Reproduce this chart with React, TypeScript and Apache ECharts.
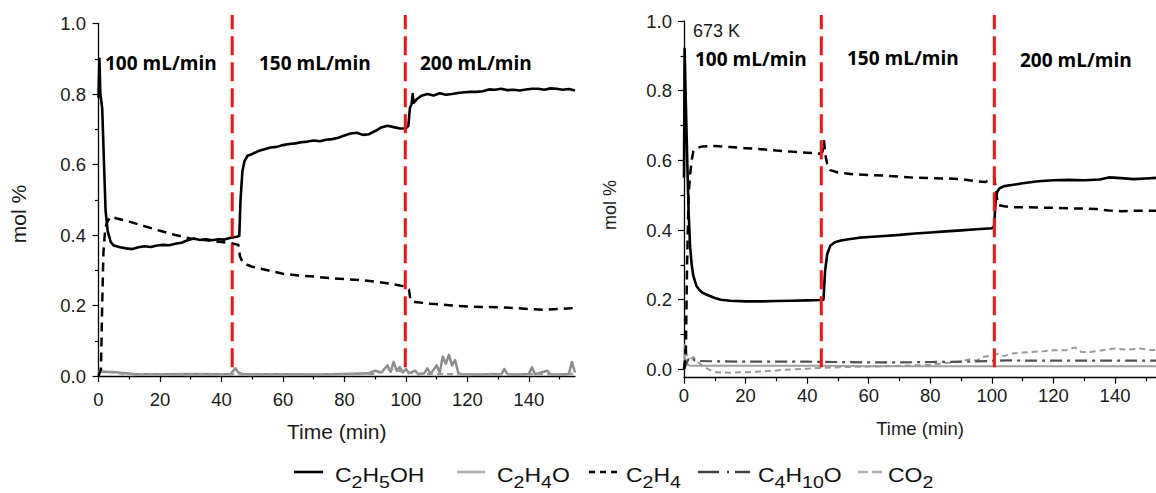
import { useEffect, useRef } from "react";
import * as echarts from "echarts";

const FONT = '"Liberation Sans", Arial, Helvetica, sans-serif';
const BOLD_FONT = '"Open Sans", "Liberation Sans", Arial, sans-serif';

// ---------- left run: [time (min), mol %] ----------
const leftEthanol: [number, number][] = [
  [0, 0.79], [0.3, 0.9], [0.6, 0.8], [1.2, 0.76], [1.8, 0.6], [2.3, 0.47], [3, 0.41], [4, 0.38], [5, 0.37],
  [7, 0.365], [9, 0.362], [11, 0.36], [13, 0.365], [15, 0.368], [17, 0.366], [19, 0.37], [21, 0.372],
  [23, 0.371], [25, 0.375], [27, 0.378], [29, 0.385], [31, 0.39], [33, 0.386], [35, 0.388], [37, 0.385],
  [39, 0.388], [41, 0.387], [43, 0.392], [45, 0.395], [45.8, 0.398], [46.2, 0.5], [46.8, 0.58], [47.5, 0.61],
  [48.5, 0.625], [50, 0.63], [52, 0.638], [54, 0.643], [56, 0.648], [58, 0.65], [60, 0.655], [62, 0.658],
  [64, 0.66], [66, 0.663], [68, 0.665], [70, 0.668], [72, 0.666], [74, 0.67], [76, 0.672], [78, 0.676],
  [80, 0.682], [82, 0.688], [84, 0.69], [86, 0.684], [88, 0.686], [90, 0.695], [92, 0.705], [94, 0.71],
  [96, 0.706], [98, 0.702], [100, 0.703], [100.8, 0.71], [101.3, 0.76], [101.8, 0.77], [102.2, 0.8],
  [102.5, 0.775], [103.5, 0.785], [105, 0.795], [107, 0.8], [109, 0.796], [111, 0.802], [113, 0.798],
  [115, 0.8], [117, 0.803], [119, 0.805], [121, 0.806], [123, 0.806], [125, 0.808], [127, 0.813],
  [129, 0.812], [131, 0.815], [133, 0.811], [135, 0.812], [137, 0.81], [139, 0.813], [141, 0.815],
  [143, 0.815], [145, 0.812], [147, 0.816], [149, 0.815], [151, 0.812], [153, 0.814], [155, 0.81],
];

const leftEthylene: [number, number][] = [
  [0, 0.0], [0.8, 0.02], [1.2, 0.2], [1.6, 0.35], [2.2, 0.42], [3, 0.44], [4, 0.452], [6, 0.447],
  [10, 0.438], [15, 0.425], [20, 0.412], [25, 0.4], [30, 0.39], [35, 0.385], [40, 0.38], [43, 0.377],
  [45.5, 0.372], [46, 0.34], [47, 0.32], [50, 0.31], [55, 0.3], [60, 0.29], [65, 0.285], [70, 0.282],
  [75, 0.278], [80, 0.275], [85, 0.272], [90, 0.268], [95, 0.262], [99, 0.255], [101, 0.245],
  [101.5, 0.215], [103, 0.21], [108, 0.205], [115, 0.2], [120, 0.197], [125, 0.196], [130, 0.195],
  [135, 0.193], [140, 0.19], [145, 0.188], [150, 0.19], [155, 0.193],
];

const leftAcetaldehyde: [number, number][] = [
  [0, 0.012], [5, 0.011], [9, 0.008], [12, 0.005], [20, 0.005], [30, 0.006], [40, 0.005], [43, 0.006],
  [44.5, 0.022], [45.5, 0.01], [47, 0.005], [60, 0.005], [70, 0.004], [80, 0.006], [88, 0.008], [90, 0.015],
  [92, 0.01], [94, 0.03], [95, 0.012], [96, 0.04], [97, 0.015], [98, 0.025], [99, 0.01], [100, 0.02],
  [101, 0.008], [103, 0.015], [104, 0.005], [106, 0.008], [107, 0.022], [108, 0.006], [110, 0.03],
  [111, 0.01], [112, 0.055], [113, 0.035], [114, 0.06], [115, 0.03], [116, 0.045], [117, 0.01],
  [118, 0.005], [125, 0.004], [128, 0.006], [131, 0.004], [132, 0.02], [133, 0.005], [137, 0.004],
  [140, 0.006], [141, 0.025], [142, 0.005], [146, 0.015], [147, 0.005], [150, 0.004], [153, 0.006],
  [154, 0.04], [155, 0.01],
];

const leftCO2: [number, number][] = [
  [0, 0.015], [3, 0.012], [8, 0.006], [20, 0.004], [40, 0.005], [60, 0.004], [80, 0.005], [90, 0.006],
  [95, 0.02], [100, 0.01], [105, 0.006], [120, 0.005], [140, 0.005], [155, 0.006],
];

// ---------- right run (673 K): [time (min), mol %] ----------
const rightEthanol: [number, number][] = [
  [0, 0.55], [0.2, 0.92], [0.5, 0.8], [1, 0.62], [1.5, 0.45], [2, 0.35], [2.5, 0.3], [3, 0.27], [4, 0.24],
  [5, 0.228], [6, 0.22], [8, 0.212], [10, 0.205], [12, 0.2], [15, 0.197], [20, 0.195], [25, 0.195],
  [30, 0.196], [35, 0.197], [40, 0.198], [44, 0.199], [45.3, 0.2], [45.8, 0.28], [46.5, 0.33],
  [47.5, 0.355], [49, 0.365], [51, 0.37], [54, 0.374], [57, 0.378], [60, 0.38], [65, 0.383], [70, 0.386],
  [75, 0.39], [80, 0.393], [85, 0.396], [90, 0.399], [95, 0.402], [100, 0.405], [100.7, 0.41],
  [101.2, 0.48], [101.7, 0.51], [102.5, 0.52], [104, 0.526], [107, 0.53], [110, 0.534], [115, 0.54],
  [120, 0.543], [125, 0.544], [130, 0.543], [135, 0.545], [138, 0.551], [142, 0.549], [146, 0.546],
  [150, 0.548], [154, 0.55],
];

const rightEthylene: [number, number][] = [
  [0, 0.0], [0.6, 0.05], [1, 0.3], [1.5, 0.5], [2, 0.56], [2.5, 0.6], [3, 0.625], [4, 0.635], [6, 0.64],
  [10, 0.641], [15, 0.638], [20, 0.635], [25, 0.632], [30, 0.628], [35, 0.625], [40, 0.622], [44, 0.619],
  [45, 0.625], [45.5, 0.655], [45.8, 0.62], [46.5, 0.59], [47.5, 0.572], [50, 0.565], [55, 0.56],
  [60, 0.558], [65, 0.556], [70, 0.553], [75, 0.55], [80, 0.549], [85, 0.548], [90, 0.546], [95, 0.54],
  [98, 0.538], [100, 0.548], [100.8, 0.55], [101.5, 0.5], [102, 0.472], [104, 0.468], [108, 0.465],
  [112, 0.465], [116, 0.464], [120, 0.464], [125, 0.462], [130, 0.462], [134, 0.46], [138, 0.456],
  [142, 0.454], [146, 0.455], [150, 0.455], [154, 0.455],
];

const rightAcetaldehyde: [number, number][] = [
  [0, 0.0], [0.5, 0.03], [1, 0.015], [2, 0.01], [5, 0.01], [20, 0.01], [45, 0.01], [60, 0.009],
  [100, 0.009], [154, 0.009],
];

const rightEther: [number, number][] = [
  [0, 0.0], [0.5, 0.01], [1.5, 0.03], [2.5, 0.035], [3.5, 0.025], [5, 0.024], [10, 0.023], [20, 0.022],
  [30, 0.022], [40, 0.022], [50, 0.021], [60, 0.02], [70, 0.02], [80, 0.021], [90, 0.022], [100, 0.024],
  [105, 0.026], [110, 0.025], [120, 0.025], [130, 0.025], [140, 0.025], [150, 0.025], [154, 0.025],
];

const rightCO2: [number, number][] = [
  [0, 0.0], [0.3, 0.07], [1, 0.04], [2, 0.03], [3, 0.035], [4, 0.025], [6, 0.01], [8, 0.0], [10, -0.008],
  [15, -0.01], [20, -0.008], [25, -0.006], [30, -0.003], [35, 0.0], [40, 0.002], [45, 0.004], [50, 0.006],
  [60, 0.008], [70, 0.01], [80, 0.013], [85, 0.018], [90, 0.022], [93, 0.03], [95, 0.025], [97, 0.035],
  [100, 0.04], [102, 0.045], [104, 0.038], [106, 0.045], [110, 0.048], [113, 0.05], [117, 0.052],
  [120, 0.055], [124, 0.055], [127, 0.063], [129, 0.05], [132, 0.05], [136, 0.055], [140, 0.06],
  [144, 0.056], [148, 0.06], [152, 0.055], [154, 0.058],
];

// flow-rate switch times (min) and the vertical span of the marker lines
const leftSwitchTimes = [43.5, 99.8];
const rightSwitchTimes = [44.6, 100.8];
const leftSwitchSpan = [0.025, 1.024];
const rightSwitchSpan = [0.006, 1.017];

// tick positions
const xMajorTicks = [0, 20, 40, 60, 80, 100, 120, 140];
const xMinorTicks = [10, 30, 50, 70, 90, 110, 130, 150];
const yMajorTicks = [0, 0.2, 0.4, 0.6, 0.8, 1.0];
const yMinorTicks = [0.1, 0.3, 0.5, 0.7, 0.9];

const flowLabels = ["100 mL/min", "150 mL/min", "200 mL/min"];

// legend formulas: [text, isSubscript]
const legendFormulas: [string, boolean][][] = [
  [["C", false], ["2", true], ["H", false], ["5", true], ["OH", false]],
  [["C", false], ["2", true], ["H", false], ["4", true], ["O", false]],
  [["C", false], ["2", true], ["H", false], ["4", true]],
  [["C", false], ["4", true], ["H", false], ["10", true], ["O", false]],
  [["CO", false], ["2", true]],
];

// Arial / Liberation Sans advance widths (em)
const ADVANCE: Record<string, number> = {
  C: 0.722, H: 0.722, O: 0.778, "0": 0.556, "1": 0.556, "2": 0.556, "4": 0.556, "5": 0.556,
};

type Axes = { x: any[]; y: any[] };

// each panel: x axis line + major ticks, a minor-tick axis, and a label-only axis shifted by offset
function panelAxes(
  gridIndex: number,
  xMax: number,
  yMin: number,
  opts: { xLabelOffset: number; yMargin: number; xNameGap: number; xNameSize: number }
): Axes {
  const tickStyle = { color: "#000", width: 1.2 };
  const label = { fontFamily: FONT, fontSize: 18.5, color: "#1a1a1a" };
  return {
    x: [
      {
        type: "value", gridIndex, min: 0, max: xMax, position: "bottom",
        axisLine: { show: true, onZero: false, lineStyle: { color: "#000", width: 1.3 } },
        axisTick: { show: true, customValues: xMajorTicks, length: 6, lineStyle: tickStyle },
        axisLabel: { show: false },
        splitLine: { show: false },
        name: "Time (min)", nameLocation: "middle", nameGap: opts.xNameGap, nameMoveOverlap: false,
        nameTextStyle: { fontFamily: FONT, fontSize: opts.xNameSize, color: "#1a1a1a" },
      },
      {
        type: "value", gridIndex, min: 0, max: xMax, position: "bottom",
        axisLine: { show: false, onZero: false },
        axisTick: { show: true, customValues: xMinorTicks, length: 3.5, lineStyle: tickStyle },
        axisLabel: { show: false },
        splitLine: { show: false },
      },
      {
        type: "value", gridIndex, min: 0, max: xMax, position: "bottom", offset: opts.xLabelOffset,
        axisLine: { show: false, onZero: false },
        axisTick: { show: false },
        axisLabel: { ...label, customValues: xMajorTicks, margin: 8 },
        splitLine: { show: false },
      },
    ],
    y: [
      {
        type: "value", gridIndex, min: yMin, max: 1.0, position: "left",
        axisLine: { show: true, onZero: false, lineStyle: { color: "#000", width: 1.3 } },
        axisTick: { show: true, customValues: yMajorTicks, length: 6, lineStyle: tickStyle },
        axisLabel: { ...label, customValues: yMajorTicks, margin: opts.yMargin, formatter: (v: number) => v.toFixed(1) },
        splitLine: { show: false },
      },
      {
        type: "value", gridIndex, min: yMin, max: 1.0, position: "left",
        axisLine: { show: false, onZero: false },
        axisTick: { show: true, customValues: yMinorTicks, length: 3.5, lineStyle: tickStyle },
        axisLabel: { show: false },
        splitLine: { show: false },
      },
    ],
  };
}

function curve(name: string, data: [number, number][], xAxis: number, yAxis: number, color: string, width: number, type: any, z = 2) {
  return {
    type: "line", name, data, xAxisIndex: xAxis, yAxisIndex: yAxis,
    showSymbol: false, symbol: "none", z,
    lineStyle: { color, width, type, cap: "butt", join: "round" },
    emphasis: { disabled: true },
  };
}

function switchLine(t: number, span: number[], xAxis: number, yAxis: number) {
  return {
    type: "line", data: [[t, span[0]], [t, span[1]]], xAxisIndex: xAxis, yAxisIndex: yAxis,
    showSymbol: false, symbol: "none", clip: false, z: 5,
    lineStyle: { color: "#ff1010", width: 3, type: [19, 7] },
    emphasis: { disabled: true },
  };
}

// formula text with lowered subscripts, laid out piece by piece
function formulaGroup(parts: [string, boolean][], x: number, y: number) {
  const mainSize = 20;
  const subSize = 17;
  let cursor = 0;
  const children: any[] = [];
  parts.forEach(([text, sub]) => {
    const size = sub ? subSize : mainSize;
    children.push({
      type: "text", x: cursor, y: sub ? 7 : 0,
      style: { text, fontFamily: FONT, fontSize: size, fill: "#111", align: "left", verticalAlign: "middle" },
    });
    for (const ch of text) cursor += (ADVANCE[ch] ?? 0.6) * size;
  });
  return { type: "group", x, y, scaleX: 1.15, children };
}

const legendItems = [
  { x0: 294, x1: 323, tx: 335, color: "#000", dash: null },
  { x0: 457, x1: 485, tx: 497, color: "#b0b0b0", dash: null },
  { x0: 589, x1: 617, tx: 626, color: "#000", dash: [6, 5] },
  { x0: 698, x1: 750, tx: 758, color: "#404040", dash: [21, 8, 2, 6] },
  { x0: 858, x1: 882, tx: 888, color: "#b0b0b0", dash: [10, 4] },
];

export default function App() {
  const ref = useRef<HTMLDivElement>(null);

  useEffect(() => {
    if (!ref.current) return;
    const chart = echarts.init(ref.current, null, { renderer: "svg" });

    const left = panelAxes(0, 155, 0, { xLabelOffset: 6, yMargin: 12.5, xNameGap: 45, xNameSize: 21 });
    const right = panelAxes(1, 153.3, -0.024, { xLabelOffset: 0, yMargin: 12, xNameGap: 41, xNameSize: 18.5 });

    // x axes: left 0..2, right 3..5 ; y axes: left 0..1, right 2..3
    const LX = 0, LY = 0, RX = 3, RY = 2;

    const legendGraphics: any[] = [];
    legendItems.forEach((it, i) => {
      legendGraphics.push({
        type: "line",
        shape: { x1: it.x0, y1: 472, x2: it.x1, y2: 472 },
        style: { stroke: it.color, lineWidth: 2.6, lineDash: it.dash || undefined },
      });
      legendGraphics.push(formulaGroup(legendFormulas[i], it.tx, 475));
    });

    const boldText = (text: string, x: number, y: number) => ({
      type: "text", x, y, z: 10,
      style: { text, fontFamily: BOLD_FONT, fontWeight: "bold", fontSize: 19, fill: "#000", align: "left", verticalAlign: "middle" },
    });

    const yTitle = (x: number, y: number, size: number) => ({
      type: "text", x, y, rotation: Math.PI / 2,
      style: { text: "mol %", fontFamily: FONT, fontSize: size, fill: "#1a1a1a", align: "center", verticalAlign: "middle" },
    });

    chart.setOption({
      animation: false,
      backgroundColor: "#fff",
      grid: [
        { left: 98.5, top: 23.5, width: 476.5, height: 352.5, containLabel: false },
        { left: 684, top: 21, width: 472, height: 356.7, containLabel: false },
      ],
      xAxis: [...left.x, ...right.x],
      yAxis: [...left.y, ...right.y],
      series: [
        curve("C2H4O", leftAcetaldehyde, LX, LY, "#8c8c8c", 2.5, "solid"),
        curve("CO2", leftCO2, LX, LY, "#9a9a9a", 2.2, [6, 4]),
        curve("C2H4", leftEthylene, LX, LY, "#000", 2.5, [9, 6], 3),
        curve("C2H5OH", leftEthanol, LX, LY, "#000", 2.6, "solid", 3),
        ...leftSwitchTimes.map((t) => switchLine(t, leftSwitchSpan, LX, LY)),

        curve("C2H4O", rightAcetaldehyde, RX, RY, "#a0a0a0", 2, "solid"),
        curve("CO2", rightCO2, RX, RY, "#999999", 2, [6, 4]),
        curve("C4H10O", rightEther, RX, RY, "#505050", 2.2, [12, 5, 3, 5]),
        curve("C2H4", rightEthylene, RX, RY, "#000", 2.5, [9, 6], 3),
        curve("C2H5OH", rightEthanol, RX, RY, "#000", 2.6, "solid", 3),
        ...rightSwitchTimes.map((t) => switchLine(t, rightSwitchSpan, RX, RY)),
      ],
      graphic: [
        boldText(flowLabels[0], 105, 63),
        boldText(flowLabels[1], 259, 63),
        boldText(flowLabels[2], 420, 63),
        {
          type: "text", x: 693, y: 31, z: 10,
          style: { text: "673 K", fontFamily: FONT, fontSize: 18, fill: "#1a1a1a", align: "left", verticalAlign: "middle" },
        },
        boldText(flowLabels[0], 695, 59),
        boldText(flowLabels[1], 847, 57.5),
        boldText(flowLabels[2], 1020, 60),
        yTitle(18, 214, 21),
        yTitle(610, 205, 18),
        ...legendGraphics,
      ],
    });

    return () => chart.dispose();
  }, []);

  return (
    <div
      ref={ref}
      style={{ position: "absolute", left: 0, top: 0, width: 1156, height: 493, background: "#fff" }}
    />
  );
}
